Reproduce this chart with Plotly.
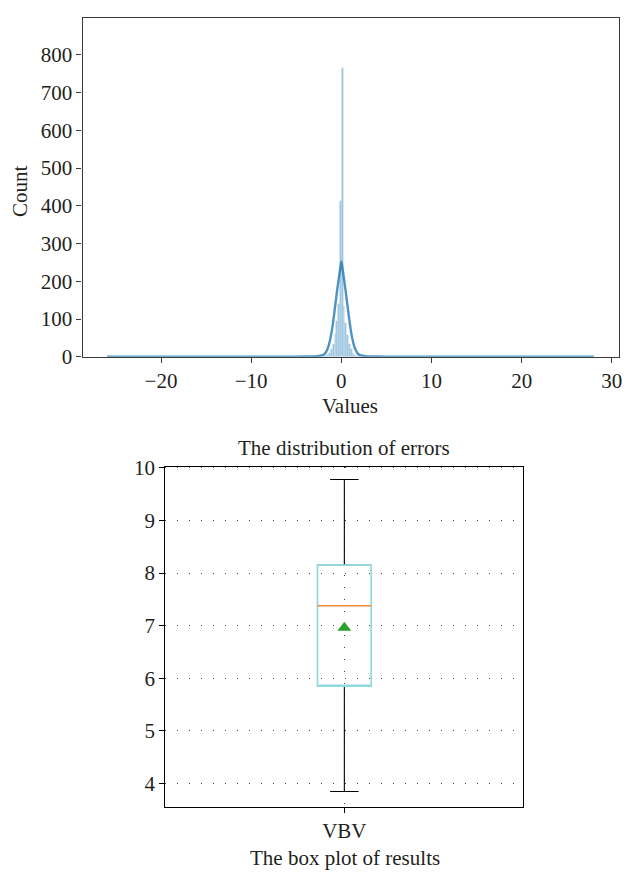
import plotly.graph_objects as go

# ---- Histogram of errors (bin width 0.2, left edges) ----
bin_width = 0.2
bin_left = [-26.0, -12.4, -6.2,
            -2.0, -1.8, -1.6, -1.4, -1.2, -1.0, -0.8, -0.6, -0.4, -0.2,
            0.0, 0.2, 0.4, 0.6, 0.8, 1.0, 1.2, 1.4, 1.6, 1.8, 2.0,
            5.4, 9.8, 27.8]
bin_count = [1, 1, 1,
             2, 3, 6, 11, 20, 35, 60, 95, 140, 413,
             766, 135, 90, 58, 35, 20, 11, 6, 3, 2, 1,
             1, 1, 1]

# ---- Kernel density estimate (scaled to counts) ----
kde_x = [-26.0, -20.0, -15.0, -10.0, -6.0, -4.0, -3.0, -2.5, -2.0, -1.8, -1.6, -1.4,
         -1.2, -1.0, -0.9, -0.8, -0.7, -0.6, -0.5, -0.4, -0.3, -0.2, -0.1, 0.0,
         0.1, 0.2, 0.3, 0.4, 0.5, 0.6, 0.7, 0.8, 0.9, 1.0, 1.2, 1.4, 1.6, 1.8,
         2.0, 2.5, 3.0, 4.0, 6.0, 10.0, 15.0, 20.0, 28.0]
kde_y = [0.05, 0.05, 0.1, 0.1, 0.3, 0.5, 1.0, 2.0, 5.0, 9.0, 17.0, 30.0,
         50.0, 78.0, 95.0, 112.0, 132.0, 150.0, 170.0, 188.0, 205.0, 222.0, 238.0, 252.0,
         238.0, 222.0, 205.0, 188.0, 170.0, 150.0, 132.0, 112.0, 95.0, 78.0, 50.0, 30.0, 17.0, 9.0,
         5.0, 2.0, 1.0, 0.5, 0.3, 0.1, 0.1, 0.05, 0.05]

# ---- Box plot summary of results ----
box_label = "VBV"
box_min = 3.85
box_q1 = 5.85
box_median = 7.38
box_q3 = 8.15
box_max = 9.78
box_mean = 6.96

hist_ticks = [-20, -10, 0, 10, 20, 30]
count_ticks = [0, 100, 200, 300, 400, 500, 600, 700, 800]
result_ticks = [4, 5, 6, 7, 8, 9, 10]

FONT = "Liberation Serif"
FS = 21
TXT = "#231f20"
W, H = 627, 883
BOX_W = 0.15

fig = go.Figure()

bin_centers = [b + bin_width / 2 for b in bin_left]
fig.add_trace(go.Bar(
    x=bin_centers, y=bin_count, width=bin_width,
    marker=dict(color="rgba(31,119,180,0.42)",
                line=dict(color="rgba(255,255,255,0.45)", width=0.3)),
    xaxis="x", yaxis="y", showlegend=False, hoverinfo="skip"))
fig.add_trace(go.Scatter(
    x=kde_x, y=kde_y, mode="lines",
    line=dict(color="rgba(31,119,180,0.8)", width=2.4, shape="spline", smoothing=0.6),
    xaxis="x", yaxis="y", showlegend=False, hoverinfo="skip"))


def box_piece(lo, q1, med, q3, hi, color, width, whisker):
    return go.Box(
        x=[1], q1=[q1], median=[med], q3=[q3], lowerfence=[lo], upperfence=[hi],
        width=BOX_W, whiskerwidth=whisker, fillcolor="rgba(0,0,0,0)",
        line=dict(color=color, width=width), boxpoints=False,
        xaxis="x2", yaxis="y2", showlegend=False, hoverinfo="skip")


# upper and lower whiskers with caps (black)
fig.add_trace(box_piece(box_q3, box_q3, box_q3, box_q3, box_max, "black", 1.1, 0.53))
fig.add_trace(box_piece(box_min, box_q1, box_q1, box_q1, box_q1, "black", 1.1, 0.53))
# box body (cyan)
fig.add_trace(box_piece(box_q1, box_q1, box_q1, box_q3, box_q3, "#90dadc", 1.7, 0))
# median line (orange)
fig.add_trace(box_piece(box_median, box_median, box_median, box_median, box_median,
                        "#f08a30", 1.4, 0))
# mean marker
fig.add_trace(go.Scatter(
    x=[1], y=[box_mean], mode="markers",
    marker=dict(symbol="triangle-up", size=12, color="#2ca02c"),
    xaxis="x2", yaxis="y2", showlegend=False, hoverinfo="skip"))

tickfont = dict(family=FONT, size=FS, color=TXT)
axis_common = dict(showline=True, mirror=True, ticks="outside", ticklen=5,
                   tickwidth=1, zeroline=False, tickfont=tickfont)


def label(text, x, y, angle=0):
    return dict(text=text, x=x / W, y=1 - y / H, xref="paper", yref="paper",
                xanchor="center", yanchor="middle", showarrow=False, textangle=angle,
                font=dict(family=FONT, size=FS, color=TXT))


fig.update_layout(
    width=W, height=H,
    margin=dict(l=0, r=0, t=0, b=0),
    paper_bgcolor="white", plot_bgcolor="white",
    boxmode="overlay", bargap=0,
    xaxis=dict(domain=[83 / W, 622 / W], range=[-28.7, 30.8],
               tickvals=hist_ticks, showgrid=False,
               linecolor="#3a3a3a", linewidth=1.3, tickcolor="#3a3a3a",
               anchor="y", **axis_common),
    yaxis=dict(domain=[1 - 355 / H, 1 - 7 / H], range=[0, 898],
               tickvals=count_ticks, showgrid=False,
               linecolor="#3a3a3a", linewidth=1.3, tickcolor="#3a3a3a",
               anchor="x", **axis_common),
    xaxis2=dict(domain=[166 / W, 526 / W], range=[0.5, 1.5],
                tickvals=[1], ticktext=[box_label],
                showgrid=True, gridcolor="#444", gridwidth=1, griddash="1px,11px",
                linecolor="black", linewidth=1.2, tickcolor="black",
                anchor="y2", **axis_common),
    yaxis2=dict(domain=[1 - 817 / H, 1 - 468 / H], range=[3.56, 10.02],
                tickvals=result_ticks,
                showgrid=True, gridcolor="#444", gridwidth=1, griddash="1px,11px",
                linecolor="black", linewidth=1.2, tickcolor="black",
                anchor="x2", **axis_common),
    annotations=[
        label("Values", 352, 406),
        label("Count", 20, 185, -90),
        label("The distribution of errors", 346, 449),
        label("The box plot of results", 347, 870),
    ],
)

fig.write_html("out.html")
